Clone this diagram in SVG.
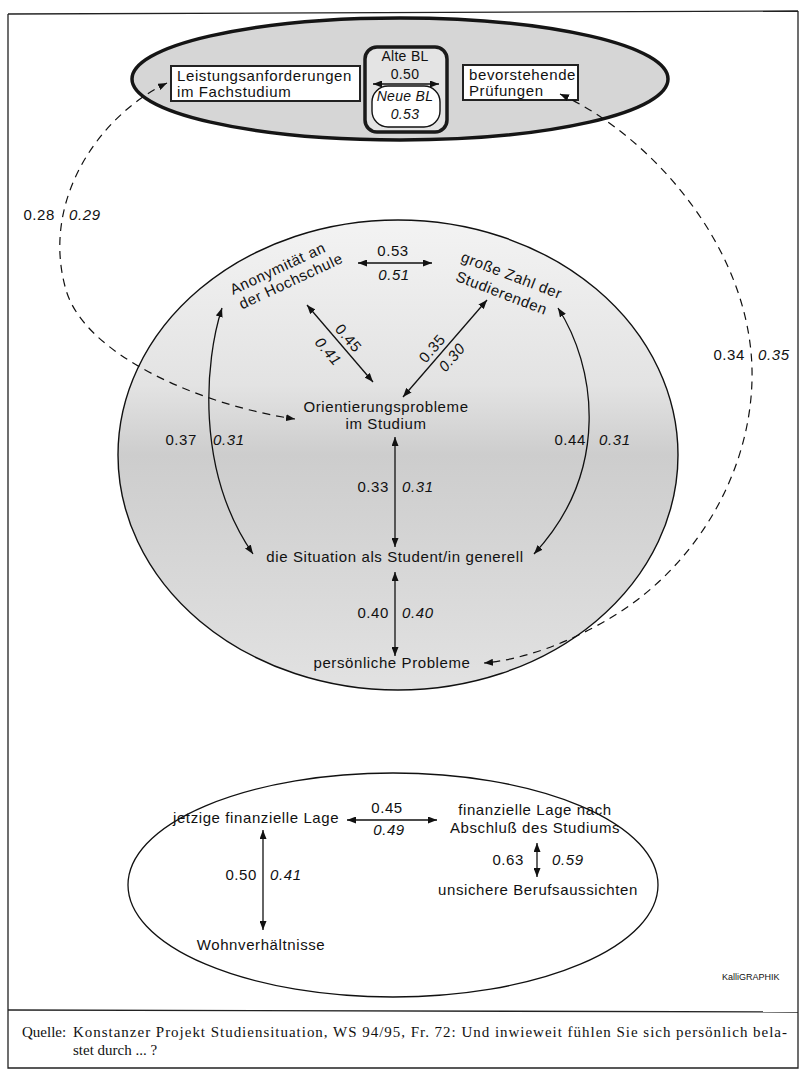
<svg xmlns="http://www.w3.org/2000/svg" width="802" height="1069" viewBox="0 0 802 1069">
<defs>
<style>
.t{font-family:"Liberation Sans",Arial,Helvetica,sans-serif;font-size:15px;letter-spacing:0.6px;fill:#111}
.s{font-size:14px;letter-spacing:0.3px}
.i{font-style:italic}
.c{text-anchor:middle}
.e{text-anchor:end}
.ln{fill:none;stroke:#111;stroke-width:1.3}
.dl{fill:none;stroke:#111;stroke-width:1.2;stroke-dasharray:8 6}
.da{marker-start:url(#ah);marker-end:url(#ah)}
.cap{font-family:"Liberation Serif","Times New Roman",serif;font-size:15px;fill:#111}
</style>
<marker id="ah" viewBox="0 0 9 7" refX="9" refY="3.5" markerWidth="9" markerHeight="7" markerUnits="userSpaceOnUse" orient="auto-start-reverse">
<path d="M0,0 L9,3.5 L0,7 z" fill="#111"/>
</marker>
<linearGradient id="gBig" x1="0" y1="0" x2="0" y2="1">
<stop offset="0" stop-color="#f3f3f3"/>
<stop offset="0.35" stop-color="#e3e3e3"/>
<stop offset="0.5" stop-color="#cdcdcd"/>
<stop offset="0.65" stop-color="#d3d3d3"/>
<stop offset="1" stop-color="#e2e2e2"/>
</linearGradient>
</defs>
<rect width="802" height="1069" fill="#fff"/>
<g id="frame" fill="none" stroke="#222" stroke-width="1.3">
<path d="M8,14 L798,11"/>
<path d="M8,14 L8,1068 L798,1068 L798,11"/>
<path d="M8,1010 L798,1012"/>
</g>
<g id="ellipse-top">
<ellipse cx="400" cy="79" rx="268" ry="61" fill="#d6d6d6" stroke="#151515" stroke-width="3.5"/>
</g>
<g id="ellipse-middle">
<ellipse cx="398" cy="455" rx="280" ry="235" fill="url(#gBig)" stroke="#111" stroke-width="1.4"/>
</g>
<g id="ellipse-bottom">
<ellipse cx="393" cy="885" rx="265" ry="112" fill="#fff" stroke="#111" stroke-width="1.3"/>
</g>
<g id="node-leistung">
<rect x="171" y="66" width="189" height="35" fill="#fff" stroke="#222" stroke-width="2"/>
<text class="t"><tspan x="177" y="81">Leistungsanforderungen</tspan><tspan x="177" y="97">im Fachstudium</tspan></text>
</g>
<g id="node-bl">
<rect x="365" y="47" width="82" height="85" rx="12" fill="#e4e4e4" stroke="#1a1a1a" stroke-width="3.5"/>
<text class="t s c" x="405" y="61">Alte BL</text>
<text class="t s c" x="405" y="79">0.50</text>
<rect x="372" y="86" width="68" height="41" rx="16" fill="#fff" stroke="#111" stroke-width="1.4"/>
<text class="t s c i" x="405" y="101">Neue BL</text>
<text class="t s c i" x="405" y="119">0.53</text>
</g>
<g id="node-pruefungen">
<rect x="463" y="65" width="115" height="35" fill="#fff" stroke="#222" stroke-width="2"/>
<text class="t"><tspan x="469" y="80">bevorstehende</tspan><tspan x="469" y="96">Prüfungen</tspan></text>
</g>
<g id="node-anonym">
<text class="t" transform="translate(233,295) rotate(-25)"><tspan x="0" y="0">Anonymität an</tspan><tspan x="2" y="17">der Hochschule</tspan></text>
</g>
<g id="node-zahl">
<text class="t" transform="translate(460,261) rotate(21)"><tspan x="0" y="0">große Zahl der</tspan><tspan x="2" y="20">Studierenden</tspan></text>
</g>
<g id="node-orient">
<text class="t c"><tspan x="386" y="412">Orientierungsprobleme</tspan><tspan x="386" y="429">im Studium</tspan></text>
</g>
<g id="node-situation">
<text class="t c" x="395" y="562">die Situation als Student/in generell</text>
</g>
<g id="node-persoenlich">
<text class="t c" x="392" y="668">persönliche Probleme</text>
</g>
<g id="node-jetzig">
<text class="t" x="173" y="823">jetzige finanzielle Lage</text>
</g>
<g id="node-nach">
<text class="t c"><tspan x="535" y="815">finanzielle Lage nach</tspan><tspan x="535" y="833">Abschluß des Studiums</tspan></text>
</g>
<g id="node-beruf">
<text class="t c" x="538" y="895">unsichere Berufsaussichten</text>
</g>
<g id="node-wohn">
<text class="t c" x="261" y="950">Wohnverhältnisse</text>
</g>
<g id="connectors">
<line class="ln da" x1="373" y1="84" x2="439" y2="84"/>
<line class="ln da" x1="358" y1="263" x2="432" y2="263"/>
<line class="ln da" x1="307" y1="305" x2="373" y2="382"/>
<line class="ln da" x1="487" y1="300" x2="403" y2="397"/>
<path class="ln da" d="M222,308 C205,360 195,470 253,554"/>
<path class="ln da" d="M558,308 C595,365 612,470 534,554"/>
<line class="ln da" x1="395" y1="437" x2="395" y2="547"/>
<line class="ln da" x1="395" y1="572" x2="395" y2="656"/>
<path class="dl da" d="M167,83 C100,115 40,200 66,290 C85,355 200,405 295,419"/>
<path class="dl da" d="M560,94 C650,135 755,250 752,380 C750,470 700,560 620,612 C570,644 520,660 484,663"/>
<line class="ln da" x1="347" y1="820" x2="437" y2="820"/>
<line class="ln da" x1="263" y1="830" x2="263" y2="930"/>
<line class="ln da" x1="537" y1="843" x2="537" y2="877"/>
</g>
<g id="labels">
<text class="t c" x="393" y="256">0.53</text>
<text class="t c i" x="394" y="280">0.51</text>
<g transform="translate(340,344) rotate(49.4)">
<text class="t c" x="1" y="-5">0.45</text>
<text class="t c i" x="-2" y="19">0.41</text>
</g>
<g transform="translate(441,352) rotate(-49.3)">
<text class="t c" x="-3" y="-4">0.35</text>
<text class="t c i" x="3" y="17">0.30</text>
</g>
<text class="t e" x="197" y="445">0.37</text>
<text class="t i" x="213" y="445">0.31</text>
<text class="t e" x="586" y="445">0.44</text>
<text class="t i" x="599" y="445">0.31</text>
<text class="t e" x="389" y="492">0.33</text>
<text class="t i" x="402" y="492">0.31</text>
<text class="t e" x="389" y="618">0.40</text>
<text class="t i" x="402" y="618">0.40</text>
<text class="t e" x="55" y="220">0.28</text>
<text class="t i" x="69" y="220">0.29</text>
<text class="t e" x="745" y="360">0.34</text>
<text class="t i" x="758" y="360">0.35</text>
<text class="t c" x="387" y="813">0.45</text>
<text class="t c i" x="389" y="835">0.49</text>
<text class="t e" x="524" y="865">0.63</text>
<text class="t i" x="552" y="865">0.59</text>
<text class="t e" x="257" y="880">0.50</text>
<text class="t i" x="270" y="880">0.41</text>
</g>
<g id="credit">
<text x="722" y="980" style="font-family:'Liberation Sans',Arial,sans-serif;font-size:9px;fill:#111">KalliGRAPHIK</text>
</g>
<g id="caption">
<text class="cap" x="22" y="1037">Quelle:</text>
<text class="cap" x="73" y="1037" textLength="714" lengthAdjust="spacing">Konstanzer Projekt Studiensituation, WS 94/95, Fr. 72: Und inwieweit fühlen Sie sich persönlich bela-</text>
<text class="cap" x="73" y="1055">stet durch ... ?</text>
</g>
</svg>
